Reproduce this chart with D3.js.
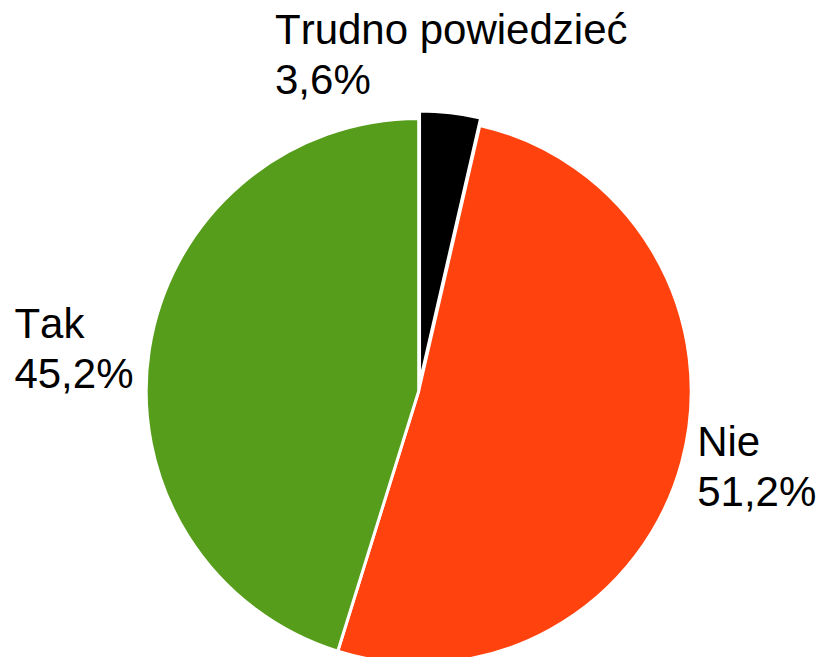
<!DOCTYPE html>
<html>
<head>
<meta charset="utf-8">
<script src="https://cdnjs.cloudflare.com/ajax/libs/d3/7.8.5/d3.min.js"></script>
<style>
  body { margin: 0; background: #fff; }
  svg { display: block; }
  .lbl { font-family: "Liberation Sans", Arial, sans-serif; font-size: 42px; fill: #000; font-kerning: none; }
</style>
</head>
<body>
<div class="visHolder"></div>
<script>
// slices in drawing order, clockwise from 12 o'clock
const categories = ['Trudno powiedzieć', 'Nie', 'Tak'];
const values = [3.6, 51.2, 45.2];
const valueLabels = ['3,6%', '51,2%', '45,2%'];
const colors = ['#000000', '#ff420e', '#579d1c'];
const exploded = [true, false, false];

let width = 818, height = 657;
const cx = 418.7, cy = 391, radius = 272.5;
const explodeDist = 7.5, labelGap = 16, lineH = 50;

const svg = d3.select('.visHolder')
              .append('svg')
              .attr('width', width)
              .attr('height', height);

const pie = d3.pie().sort(null).value(d => d);
const arcs = pie(values);

const arc = d3.arc().innerRadius(0).outerRadius(radius);

const g = svg.append('g').attr('transform', `translate(${cx},${cy})`);

g.selectAll('path')
  .data(arcs)
  .enter()
  .append('path')
  .attr('d', arc)
  .attr('fill', (d, i) => colors[i])
  .attr('stroke', '#fff')
  .attr('stroke-width', 3)
  .attr('stroke-linejoin', 'round')
  .attr('transform', (d, i) => {
    if (!exploded[i]) return null;
    const a = (d.startAngle + d.endAngle) / 2;
    return `translate(${Math.sin(a) * explodeDist},${-Math.cos(a) * explodeDist})`;
  });

// labels: anchor point just outside the pie on the slice's mid angle
arcs.forEach((d, i) => {
  const a = (d.startAngle + d.endAngle) / 2;
  const ax = Math.sin(a) * (radius + labelGap);
  const ay = -Math.cos(a) * (radius + labelGap);

  const t = g.append('text').attr('class', 'lbl');
  const l1 = t.append('tspan').text(categories[i]);
  const l2 = t.append('tspan').text(valueLabels[i]);
  const w = Math.max(l1.node().getComputedTextLength(), l2.node().getComputedTextLength());

  let x0, b1;
  if (Math.abs(Math.sin(a)) > 0.7) {
    // side label: block vertically centred on anchor
    x0 = Math.sin(a) > 0 ? ax : ax - w;
    b1 = ay - 10;
  } else {
    // top / bottom label: block horizontally centred
    x0 = ax - w / 2;
    b1 = Math.cos(a) > 0 ? ay - 10 - lineH : ay + 40;
  }
  l1.attr('x', x0).attr('y', b1);
  l2.attr('x', x0).attr('y', b1 + lineH);
});
</script>
</body>
</html>
